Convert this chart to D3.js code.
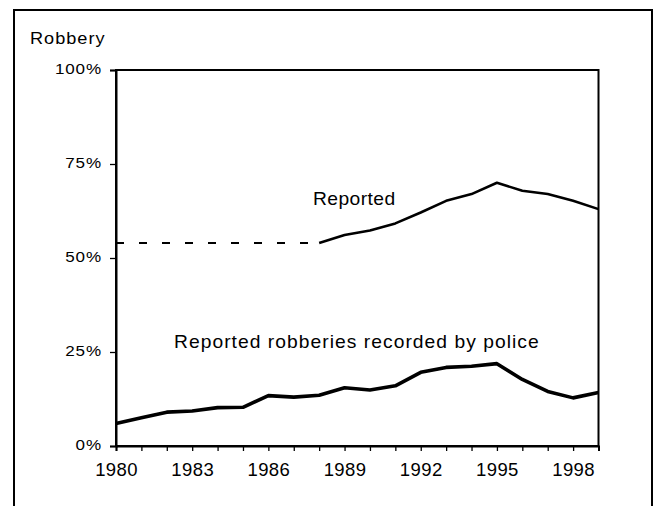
<!DOCTYPE html>
<html>
<head>
<style>
  body { margin: 0; background: #fff; }
  svg text { font-family: "Liberation Sans", Arial, sans-serif; fill: #000; }
</style>
</head>
<body>
<div id="chart"></div>
<script src="https://d3js.org/d3.v7.min.js"></script>
<script>
// data
const years = d3.range(1980, 2000);
const yTicks = [0, 25, 50, 75, 100];
const xLabelYears = [1980, 1983, 1986, 1989, 1992, 1995, 1998];

// victims saying they reported the robbery (survey starts 1988)
const reportedYears = [1988, 1989, 1990, 1991, 1992, 1993, 1994, 1995, 1996, 1997, 1998, 1999];
const reported = [54, 56.1, 57.3, 59.2, 62.1, 65.2, 67.0, 70.0, 67.9, 67.0, 65.2, 63.0];

// reported robberies recorded by police, 1980-1999
const recorded = [6.0, 7.5, 9.0, 9.3, 10.2, 10.3, 13.4, 13.0, 13.5, 15.5,
                  14.9, 16.0, 19.6, 20.9, 21.2, 21.9, 17.7, 14.5, 12.8, 14.2];

const width = 657, height = 506;
const margin = { top: 70, right: 58, bottom: 60, left: 116 };
const stretch = 1.1; // the original lettering is a little wide

const svg = d3.select('#chart').append('svg')
  .attr('width', width)
  .attr('height', height);

// outer box (bottom edge is cut off in the picture)
svg.append('rect')
  .attr('x', 14).attr('y', 10)
  .attr('width', 638).attr('height', 520)
  .attr('fill', 'none')
  .attr('stroke', '#000')
  .attr('stroke-width', 2);

const x = d3.scaleLinear()
  .domain([1980, 1999])
  .range([margin.left, width - margin.right - 0.5]);

const y = d3.scaleLinear()
  .domain([0, 100])
  .range([height - margin.bottom, margin.top]);

// plot frame
svg.append('rect')
  .attr('x', x(1980)).attr('y', y(100))
  .attr('width', x(1999) - x(1980))
  .attr('height', y(0) - y(100))
  .attr('fill', 'none')
  .attr('stroke', '#000')
  .attr('stroke-width', 2);

const yAxis = svg.append('g')
  .attr('transform', `translate(${x(1980)},0)`)
  .call(d3.axisLeft(y).tickValues(yTicks).tickSize(6).tickPadding(8).tickFormat(d => d + '%'));

const xAxis = svg.append('g')
  .attr('transform', `translate(0,${y(0)})`)
  .call(d3.axisBottom(x).tickValues(years).tickSize(5).tickPadding(12)
    .tickFormat(d => xLabelYears.includes(d) ? String(d) : ''));

[yAxis, xAxis].forEach(g => {
  g.select('.domain').attr('stroke-width', 2);
  g.selectAll('.tick line').attr('stroke-width', 1.3);
  g.selectAll('text').attr('font-family', null);
});
yAxis.selectAll('text')
  .style('font-size', '15.5px')
  .style('letter-spacing', '0.8px')
  .attr('x', -14 / stretch)
  .attr('dy', '0.22em')
  .attr('transform', `scale(${stretch},1)`);
xAxis.selectAll('text')
  .style('font-size', '18.5px')
  .style('letter-spacing', '0.4px');

function label(px, py, size, spacing, str) {
  svg.append('text')
    .attr('transform', `translate(${px},${py}) scale(${stretch},1)`)
    .style('font-size', size + 'px')
    .style('letter-spacing', spacing + 'px')
    .text(str);
}

// y title
label(30, 44, 16.5, 0.9, 'Robbery');

const line = d3.line()
  .x(d => x(d[0]))
  .y(d => y(d[1]));

// dashed lead-in at the first survey value
svg.append('path')
  .datum([[1980, reported[0]], [reportedYears[0], reported[0]]])
  .attr('d', line)
  .attr('fill', 'none')
  .attr('stroke', '#000')
  .attr('stroke-width', 2)
  .attr('stroke-dasharray', '8,15');

svg.append('path')
  .datum(reportedYears.map((yr, i) => [yr, reported[i]]))
  .attr('d', line)
  .attr('fill', 'none')
  .attr('stroke', '#000')
  .attr('stroke-width', 2.6)
  .attr('stroke-linejoin', 'round');

svg.append('path')
  .datum(years.map((yr, i) => [yr, recorded[i]]))
  .attr('d', line)
  .attr('fill', 'none')
  .attr('stroke', '#000')
  .attr('stroke-width', 3.6)
  .attr('stroke-linejoin', 'round');

// series labels
label(313, 205, 17.5, 0.4, 'Reported');
label(174, 348, 17.5, 0.95, 'Reported robberies recorded by police');
</script>
</body>
</html>
